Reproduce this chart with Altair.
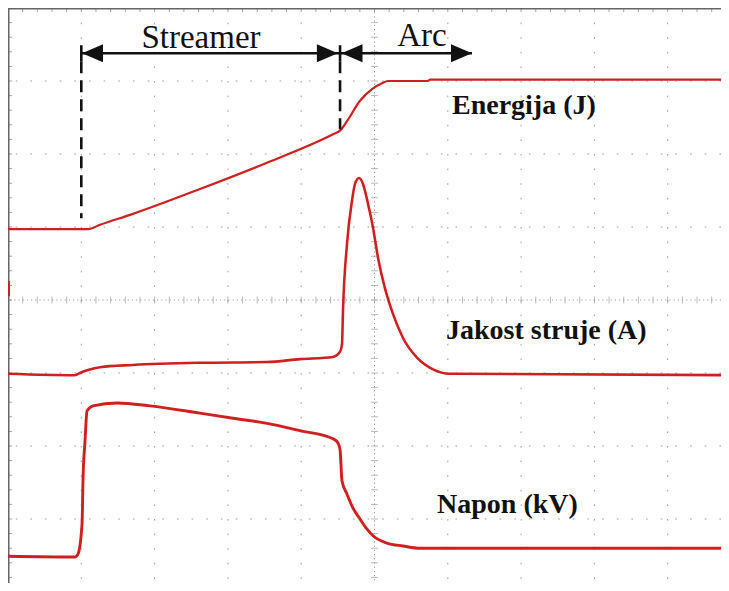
import altair as alt
import pandas as pd

# ---- data (x in screen divisions from the left edge, y in divisions from the bottom) ----
energy_t = [0.0, 1.091, 1.255, 1.705, 2.619, 3.533, 4.434, 4.529, 4.625, 4.802, 4.966, 5.102, 5.184, 5.730, 5.757, 9.836]
energy_v = [4.97, 4.97, 5.03, 5.18, 5.52, 5.88, 6.27, 6.32, 6.45, 6.73, 6.89, 6.97, 7.00, 7.00, 7.02, 7.02]

current_t = [0.0, 0.914, 0.982, 1.091, 1.255, 1.705, 2.619, 3.533, 3.984, 4.434, 4.529, 4.557, 4.570, 4.625,
             4.693, 4.734, 4.789, 4.843, 4.911, 4.980, 5.048, 5.143, 5.252, 5.389, 5.580, 5.798, 6.030, 9.836]
current_v = [2.99, 2.97, 3.00, 3.04, 3.08, 3.11, 3.14, 3.15, 3.19, 3.22, 3.29, 3.40, 3.85, 4.77,
             5.36, 5.59, 5.67, 5.59, 5.32, 4.99, 4.58, 4.16, 3.81, 3.48, 3.21, 3.05, 2.99, 2.97]

voltage_t = [0.0, 0.914, 0.955, 1.010, 1.024, 1.051, 1.078, 1.160, 1.487, 1.937, 2.619, 3.069, 3.533, 3.984,
             4.434, 4.502, 4.529, 4.557, 4.625, 4.707, 4.802, 4.898, 4.980, 5.170, 5.389, 5.621, 9.836]
voltage_v = [0.49, 0.48, 0.52, 0.93, 1.56, 2.07, 2.48, 2.55, 2.59, 2.55, 2.45, 2.38, 2.31, 2.21,
             2.10, 2.04, 1.96, 1.52, 1.34, 1.15, 1.00, 0.86, 0.77, 0.67, 0.63, 0.60, 0.60]

series_names = ["energy", "current", "voltage"]
series_widths = [2.2, 2.9, 2.9]

label_text = ["Energija (J)", "Jakost struje (A)", "Napon (kV)"]
label_x = [6.057, 5.975, 5.853]
label_y = [6.548, 3.466, 1.082]

phase_text = ["Streamer", "Arc"]
phase_x = [2.633, 5.648]
phase_y = [7.452, 7.479]

streamer_start = 1.0
arc_start = 4.53
arc_end = 6.33
arrow_y = 7.38
bar_top, bar_bottom = 7.49, 7.27
dash_bottom = [5.12, 6.34]

grid_x = [1, 2, 3, 4, 6, 7, 8, 9]
grid_y = [1, 2, 3, 5, 6, 7]
center_x, center_y = 5, 4
W, H = 713, 575
XMAX = W / 73.3
YMAX = 8
YMIN = YMAX - H / 73.0
minor = [round(0.2 * k, 1) for k in range(0, 50)]

xs = alt.Scale(domain=[0, XMAX], nice=False, zero=False)
ys = alt.Scale(domain=[YMIN, YMAX], nice=False, zero=False)


def X(f):
    return alt.X(f, type="quantitative", scale=xs, axis=None)


def Y(f):
    return alt.Y(f, type="quantitative", scale=ys, axis=None)


GRID = "#9c9c9c"
RED = "#cf1f1f"
INK = "#111111"

# grid
vgrid = alt.Chart(pd.DataFrame({"gx": grid_x})).mark_rule(
    color=GRID, strokeWidth=1, strokeDash=[1.6, 13.0]).encode(x=X("gx"))
hgrid = alt.Chart(pd.DataFrame({"gy": grid_y})).mark_rule(
    color=GRID, strokeWidth=1, strokeDash=[1.6, 13.06]).encode(y=Y("gy"))
vcenter = alt.Chart(pd.DataFrame({"gx": [center_x]})).mark_rule(
    color=GRID, strokeWidth=1, strokeDash=[1.2, 3.0]).encode(x=X("gx"))
hcenter = alt.Chart(pd.DataFrame({"gy": [center_y]})).mark_rule(
    color=GRID, strokeWidth=1, strokeDash=[1.2, 3.0]).encode(y=Y("gy"))

mx = [v for v in minor if v <= XMAX]
my = [v for v in minor if YMIN <= v <= YMAX]
hticks = alt.Chart(pd.DataFrame({"tx": mx, "ty": [center_y] * len(mx)})).mark_tick(
    orient="vertical", size=7, thickness=1, color=GRID).encode(x=X("tx"), y=Y("ty"))
vticks = alt.Chart(pd.DataFrame({"tx": [center_x] * len(my), "ty": my})).mark_tick(
    orient="horizontal", size=7, thickness=1, color=GRID).encode(x=X("tx"), y=Y("ty"))
top_ticks = alt.Chart(pd.DataFrame({"tx": mx, "ty": [YMAX] * len(mx)})).mark_tick(
    orient="vertical", size=8, thickness=1, color="#777777").encode(x=X("tx"), y=Y("ty"))
left_ticks = alt.Chart(pd.DataFrame({"tx": [0] * len(my), "ty": my})).mark_tick(
    orient="horizontal", size=8, thickness=1, color="#777777").encode(x=X("tx"), y=Y("ty"))

top_border = alt.Chart(pd.DataFrame({"gy": [YMAX]})).mark_rule(
    color="#666666", strokeWidth=3).encode(y=Y("gy"))
left_border = alt.Chart(pd.DataFrame({"gx": [0]})).mark_rule(
    color="#666666", strokeWidth=3).encode(x=X("gx"))
marker = alt.Chart(pd.DataFrame({"gx": [0], "y1": [4.05], "y2": [4.26]})).mark_rule(
    color=RED, strokeWidth=4).encode(x=X("gx"), y=Y("y1"), y2="y2")

# traces
rows = []
for name, ts, vs in [("energy", energy_t, energy_v), ("current", current_t, current_v),
                     ("voltage", voltage_t, voltage_v)]:
    for i, (t, v) in enumerate(zip(ts, vs)):
        rows.append({"series": name, "t": t, "v": v, "i": i})
traces = alt.Chart(pd.DataFrame(rows)).mark_line(
    color=RED, interpolate="monotone", clip=True).encode(
    x=X("t"), y=Y("v"), detail="series:N", order="i:Q",
    strokeWidth=alt.StrokeWidth("series:N", scale=alt.Scale(domain=series_names, range=series_widths),
                                legend=None))

# annotations
dashes = alt.Chart(pd.DataFrame({"ax": [streamer_start, arc_start],
                                 "y1": [bar_bottom, bar_bottom], "y2": dash_bottom})).mark_rule(
    color=INK, strokeWidth=2.6, strokeDash=[12, 7]).encode(x=X("ax"), y=Y("y1"), y2="y2")
bars = alt.Chart(pd.DataFrame({"ax": [streamer_start, arc_start],
                               "y1": [bar_top, bar_top], "y2": [bar_bottom, bar_bottom]})).mark_rule(
    color=INK, strokeWidth=2.6).encode(x=X("ax"), y=Y("y1"), y2="y2")
arrows = alt.Chart(pd.DataFrame({"x1": [streamer_start, arc_start], "x2": [arc_start, arc_end],
                                 "ay": [arrow_y, arrow_y]})).mark_rule(
    color=INK, strokeWidth=2.6).encode(x=X("x1"), x2="x2", y=Y("ay"))
heads_left = alt.Chart(pd.DataFrame({"hx": [streamer_start + 0.01, arc_start + 0.02],
                                     "hy": [arrow_y, arrow_y]})).mark_point(
    shape="M0,0L2,-0.85L2,0.85Z", filled=True, size=440, color=INK, opacity=1, strokeWidth=0).encode(
    x=X("hx"), y=Y("hy"))
heads_right = alt.Chart(pd.DataFrame({"hx": [arc_start - 0.03, arc_end],
                                      "hy": [arrow_y, arrow_y]})).mark_point(
    shape="M0,0L-2,-0.85L-2,0.85Z", filled=True, size=440, color=INK, opacity=1, strokeWidth=0).encode(
    x=X("hx"), y=Y("hy"))

phase_labels = alt.Chart(pd.DataFrame({"txt": phase_text, "lx": phase_x, "ly": phase_y})).mark_text(
    font="Liberation Serif", fontSize=33, align="center", baseline="alphabetic", color=INK).encode(
    x=X("lx"), y=Y("ly"), text="txt:N")
trace_labels = alt.Chart(pd.DataFrame({"txt": label_text, "lx": label_x, "ly": label_y})).mark_text(
    font="Liberation Serif", fontSize=28, fontWeight="bold", align="left", baseline="alphabetic",
    color=INK).encode(x=X("lx"), y=Y("ly"), text="txt:N")

chart = alt.layer(
    vgrid, hgrid, vcenter, hcenter, hticks, vticks, top_ticks, left_ticks,
    top_border, left_border, marker,
    traces, dashes, bars, arrows, heads_left, heads_right, phase_labels, trace_labels,
).properties(
    width=W, height=H, padding=0, autosize=alt.AutoSizeParams(type="none"), background="white"
).configure_view(strokeWidth=0)

chart.save("out.html", embed_options={"renderer": "svg", "actions": False})
